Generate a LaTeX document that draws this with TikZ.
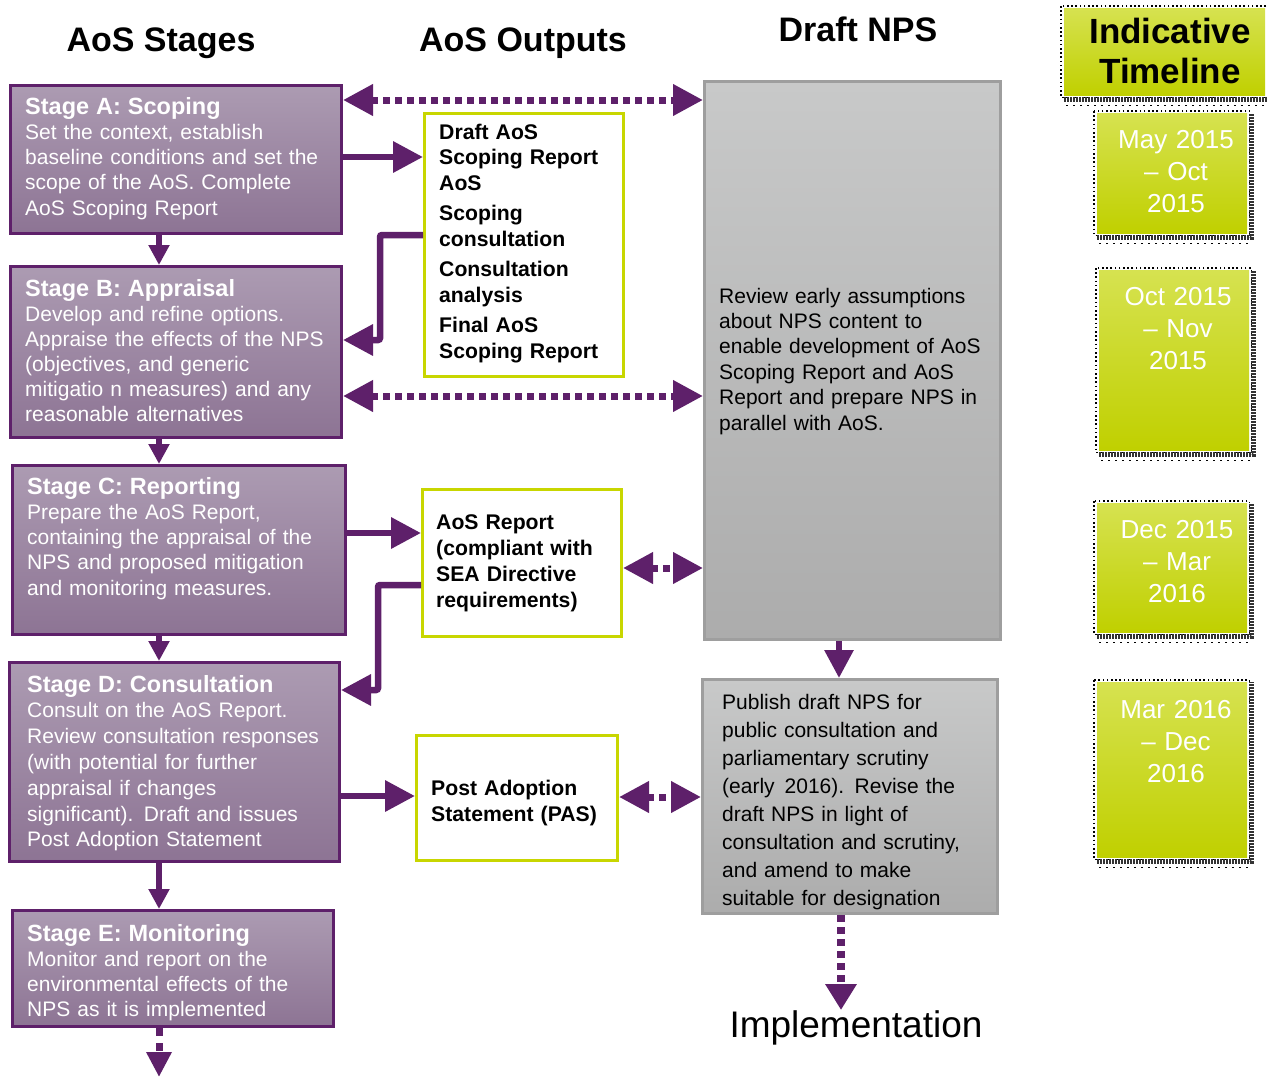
\documentclass[tikz,border=0pt]{standalone}
\usepackage{fontspec}
\setmainfont{Liberation Sans}
\usetikzlibrary{arrows.meta}
\definecolor{apurple}{RGB}{94,32,106}
\definecolor{stagetop}{RGB}{172,155,178}
\definecolor{stagebot}{RGB}{141,116,148}
\definecolor{ygreen}{RGB}{200,214,0}
\definecolor{graytop}{RGB}{200,201,201}
\definecolor{graybot}{RGB}{172,172,172}
\definecolor{grayline}{RGB}{158,158,158}
\definecolor{tltop}{RGB}{214,226,80}
\definecolor{tlmid}{RGB}{206,226,0}
\definecolor{tlbot}{RGB}{192,208,0}
\begin{document}
\begin{tikzpicture}[x=1pt,y=-1pt,
  stagebox/.style={rectangle, anchor=north west, inner sep=0pt, draw=apurple, line width=3pt, top color=stagetop, bottom color=stagebot},
  outbox/.style={rectangle, anchor=north west, inner sep=0pt, draw=ygreen, line width=3pt, fill=white},
  npsbox/.style={rectangle, anchor=north west, inner sep=0pt, draw=grayline, line width=3pt, top color=graytop, bottom color=graybot},
  tlbox/.style={rectangle, anchor=north west, inner sep=0pt, top color=tltop, middle color=tlmid, bottom color=tlbot},
  stagetext/.style={anchor=base west, inner sep=0pt, text width=330pt, align=left, text=white},
  outtext/.style={anchor=base west, inner sep=0pt, text width=190pt, align=left, font=\fontsize{21.2}{25.5}\selectfont\bfseries},
  npstext/.style={anchor=base west, inner sep=0pt, text width=280pt, align=left},
  headtext/.style={anchor=base, inner sep=0pt, font=\fontsize{34}{38}\selectfont\bfseries},
  datetext/.style={anchor=base, inner sep=0pt, text width=150pt, align=center, text=white, font=\fontsize{26}{32}\selectfont},
  harrow/.style={draw=apurple, line width=6.5pt, -{Triangle[width=30pt,length=30pt]}},
  varrow/.style={draw=apurple, line width=6pt, -{Triangle[width=20pt,length=20pt]}},
  varrowbig/.style={draw=apurple, line width=6pt, -{Triangle[width=28pt,length=28pt]}},
  dotarrow/.style={draw=apurple, line width=7pt, dash pattern=on 7pt off 5pt, {Triangle[width=30pt,length=30pt]}-{Triangle[width=30pt,length=30pt]}},
  dotdown/.style={draw=apurple, line width=8pt, dash pattern=on 7pt off 5pt, -{Triangle[width=30pt,length=26pt]}},
  dotdownsmall/.style={draw=apurple, line width=7pt, dash pattern=on 8pt off 7pt, -{Triangle[width=24pt,length=25pt]}},
  dotframe/.style={draw=black, line width=1.6pt, dash pattern=on 1.6pt off 2.6pt},
  shadowband/.style={draw=black!80, line width=4.5pt, dash pattern=on 1.5pt off 1.5pt},
  sparsedots/.style={draw=black, line width=1.6pt, dash pattern=on 2pt off 5pt}
]
\useasboundingbox (0,0) rectangle (1267,1077);

% helper coordinates
\coordinate (x159) at (159,0);
\coordinate (x380) at (380,0);
\coordinate (x378) at (378,0);
\coordinate (x839) at (839,0);
\coordinate (x841) at (841,0);
\coordinate (y100) at (0,100);
\coordinate (y157) at (0,157);
\coordinate (y235) at (0,235);
\coordinate (y340) at (0,340);
\coordinate (y396) at (0,396);
\coordinate (y533) at (0,533);
\coordinate (y568) at (0,568);
\coordinate (y585) at (0,585);
\coordinate (y690) at (0,690);
\coordinate (y796) at (0,796);
\coordinate (y797) at (0,797);
\coordinate (bottomend) at (159,1077);

% column headings
\node[headtext] (h1) at (161,51) {AoS Stages};
\node[headtext] (h2) at (523,51) {AoS Outputs};
\node[headtext] (h3) at (858,41) {Draft NPS};

% stage boxes
\node[stagebox, minimum width=331pt, minimum height=148pt] (A) at (9,84) {};
\node[stagebox, minimum width=331pt, minimum height=171pt] (B) at (9,265) {};
\node[stagebox, minimum width=333pt, minimum height=169pt] (C) at (11,464) {};
\node[stagebox, minimum width=330pt, minimum height=199pt] (D) at (8,661) {};
\node[stagebox, minimum width=321pt, minimum height=116pt] (E) at (11,909) {};

\node[stagetext, font=\fontsize{21}{25.3}\selectfont] (At) at (25,114)
  {{\fontsize{23.5}{25.3}\selectfont\bfseries Stage A: Scoping}\\Set the context, establish\\baseline conditions and set the\\scope of the AoS. Complete\\AoS Scoping Report};
\node[stagetext, font=\fontsize{21}{25.1}\selectfont] (Bt) at (25,296)
  {{\fontsize{23.5}{25.1}\selectfont\bfseries Stage B: Appraisal}\\Develop and refine options.\\Appraise the effects of the NPS\\(objectives, and generic\\mitigatio n measures) and any\\reasonable alternatives};
\node[stagetext, font=\fontsize{21}{25.3}\selectfont] (Ct) at (27,494)
  {{\fontsize{23.5}{25.3}\selectfont\bfseries Stage C: Reporting}\\Prepare the AoS Report,\\containing the appraisal of the\\NPS and proposed mitigation\\and monitoring measures.};
\node[stagetext, font=\fontsize{21}{25.8}\selectfont] (Dt) at (27,692)
  {{\fontsize{23.5}{25.8}\selectfont\bfseries Stage D: Consultation}\\Consult on the AoS Report.\\Review consultation responses\\(with potential for further\\appraisal if changes\\significant). Draft and issues\\Post Adoption Statement};
\node[stagetext, font=\fontsize{21}{25.3}\selectfont] (Et) at (27,941)
  {{\fontsize{23.5}{25.3}\selectfont\bfseries Stage E: Monitoring}\\Monitor and report on the\\environmental effects of the\\NPS as it is implemented};

% output boxes
\node[outbox, minimum width=199pt, minimum height=263pt] (O1) at (423,112) {};
\node[outbox, minimum width=199pt, minimum height=147pt] (O2) at (421,488) {};
\node[outbox, minimum width=201pt, minimum height=125pt] (O3) at (415,734) {};

\node[outtext] (O1t) at (439,139)
  {Draft AoS\\Scoping Report\\AoS\\[5pt]Scoping\\consultation\\[5pt]Consultation\\analysis\\[5pt]Final AoS\\Scoping Report};
\node[outtext, font=\fontsize{21.2}{26}\selectfont\bfseries] (O2t) at (436,529)
  {AoS Report\\(compliant with\\SEA Directive\\requirements)};
\node[outtext, font=\fontsize{21.2}{26}\selectfont\bfseries] (O3t) at (431,795)
  {Post Adoption\\Statement (PAS)};

% Draft NPS boxes
\node[npsbox, minimum width=296pt, minimum height=558pt] (N1) at (703,80) {};
\node[npsbox, minimum width=295pt, minimum height=234pt] (N2) at (701,678) {};

\node[npstext, font=\fontsize{21}{25.4}\selectfont] (N1t) at (719,303)
  {Review early assumptions\\about NPS content to\\enable development of AoS\\Scoping Report and AoS\\Report and prepare NPS in\\parallel with AoS.};
\node[npstext, font=\fontsize{21}{28.1}\selectfont] (N2t) at (722,709)
  {Publish draft NPS for\\public consultation and\\parliamentary scrutiny\\(early\hspace{3pt} 2016). Revise the\\draft NPS in light of\\consultation and scrutiny,\\and amend to make\\suitable for designation};

\node[anchor=base, inner sep=0pt, font=\fontsize{37}{40}\selectfont] (impl) at (856,1037) {Implementation};

% timeline
\node[tlbox, minimum width=201pt, minimum height=87pt] (T0) at (1064,8) {};
\node[tlbox, minimum width=150pt, minimum height=120pt] (T1) at (1097,113) {};
\node[tlbox, minimum width=150pt, minimum height=180pt] (T2) at (1099,270) {};
\node[tlbox, minimum width=150pt, minimum height=129pt] (T3) at (1097,503) {};
\node[tlbox, minimum width=150pt, minimum height=175pt] (T4) at (1097,682) {};
\foreach \t in {T0,T1,T2,T3,T4}{
  \draw[dotframe] ([shift={(-3,-2)}]\t.north west) rectangle ([shift={(2,2)}]\t.south east);
  \draw[shadowband] ([shift={(0,4)}]\t.south west) -- ([shift={(4,4)}]\t.south east) -- ([shift={(4,0)}]\t.north east);
  \draw[sparsedots] ([shift={(2,10)}]\t.south west) -- ([shift={(2,10)}]\t.south east);
}
\node[anchor=base, inner sep=0pt, text width=200pt, align=center, font=\fontsize{35}{40}\selectfont\bfseries] (T0t) at (1170,43) {Indicative\\Timeline};
\node[datetext] (T1t) at (1176,148) {May 2015\\– Oct\\2015};
\node[datetext] (T2t) at (1178,305) {Oct 2015\\– Nov\\2015};
\node[datetext] (T3t) at (1177,538) {Dec 2015\\– Mar\\2016};
\node[datetext] (T4t) at (1176,718) {Mar 2016\\– Dec\\2016};

% connectors
\draw[varrow] (A.south -| x159) -- (B.north -| x159);
\draw[varrow] (B.south -| x159) -- (C.north -| x159);
\draw[varrow] (C.south -| x159) -- (D.north -| x159);
\draw[varrow] (D.south -| x159) -- (E.north -| x159);
\draw[dotdownsmall] (E.south -| x159) -- (bottomend);

\draw[dotarrow] (A.east |- y100) -- (N1.west |- y100);
\draw[harrow] (A.east |- y157) -- (O1.west |- y157);
\draw[harrow, rounded corners=2pt] (O1.west |- y235) -- (x380 |- y235) -- (x380 |- y340) -- (B.east |- y340);
\draw[dotarrow] (B.east |- y396) -- (N1.west |- y396);
\draw[harrow] (C.east |- y533) -- (O2.west |- y533);
\draw[harrow, rounded corners=2pt] (O2.west |- y585) -- (x378 |- y585) -- (x378 |- y690) -- (D.east |- y690);
\draw[dotarrow] (O2.east |- y568) -- (N1.west |- y568);
\draw[varrowbig] (N1.south -| x839) -- (N2.north -| x839);
\draw[harrow] (D.east |- y796) -- (O3.west |- y796);
\draw[dotarrow] (O3.east |- y797) -- (N2.west |- y797);
\draw[dotdown] (N2.south -| x841) -- (impl.north -| x841);
\end{tikzpicture}
\end{document}
